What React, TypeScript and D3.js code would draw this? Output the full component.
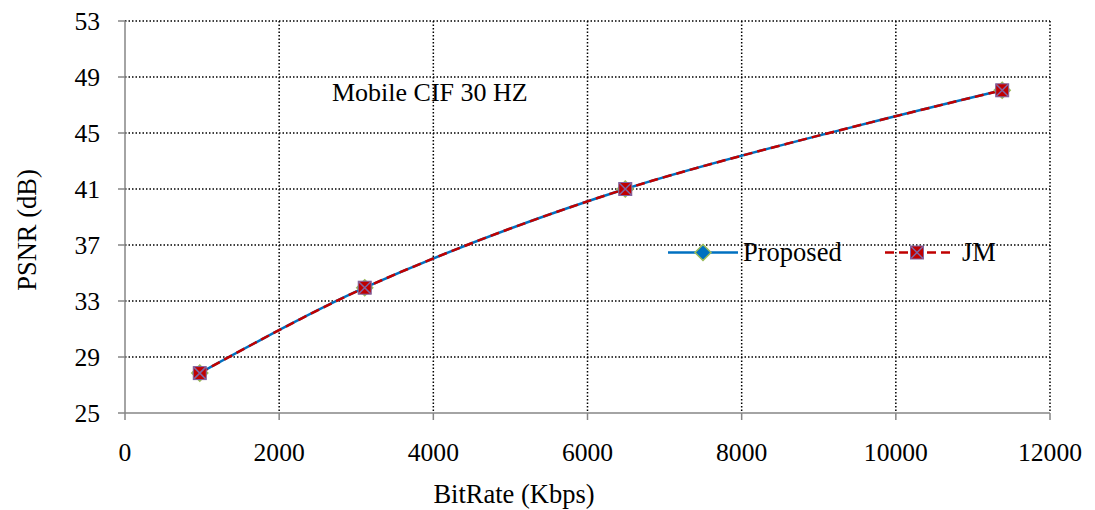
import React from "react";
import * as d3 from "d3";

const bitrate = [970, 3110, 6490, 11380];
const proposed = [27.85, 33.95, 41.0, 48.05];
const jm = [27.85, 33.95, 41.0, 48.05];
const xTicks = [0, 2000, 4000, 6000, 8000, 10000, 12000];
const yTicks = [25, 29, 33, 37, 41, 45, 49, 53];

const W = 1095, H = 510;
const L = 125, R = 1050, T = 21, B = 413;
const font = "Liberation Serif, DejaVu Serif, serif";

export default function App() {
  const x = d3.scaleLinear().domain([0, 12000]).range([L, R]);
  const y = d3.scaleLinear().domain([25, 53]).range([B, T]);
  const line = d3.line<number>().x((_, i) => x(bitrate[i])).y((d) => y(d)).curve(d3.curveCatmullRom.alpha(0.5));
  const blue = "#0070C0", red = "#C00000", green = "#9BBB59", purple = "#8064A2";
  const diamond = (cx: number, cy: number, k: string) => (
    <path key={k} d={`M${cx},${cy - 8}L${cx + 8},${cy}L${cx},${cy + 8}L${cx - 8},${cy}Z`} fill={blue} stroke={green} strokeWidth={1.5} />
  );
  const square = (cx: number, cy: number, k: string) => (
    <g key={k}>
      <rect x={cx - 6.5} y={cy - 6.5} width={13} height={13} fill={red} stroke={purple} strokeWidth={1} />
      <path d={`M${cx - 6},${cy - 6}L${cx + 6},${cy + 6}M${cx + 6},${cy - 6}L${cx - 6},${cy + 6}`} stroke={purple} strokeWidth={1.5} />
    </g>
  );
  return (
    <div style={{ position: "absolute", left: 0, top: 0 }}>
      <svg width={W} height={H} style={{ display: "block", background: "#fff", fontFamily: font }}>
        {yTicks.filter((t) => t !== 25).map((t) => (
          <line key={"gy" + t} x1={L} x2={R} y1={y(t)} y2={y(t)} stroke="#000" strokeWidth={1.5} strokeDasharray="1.5,2" />
        ))}
        {xTicks.filter((t) => t !== 0).map((t) => (
          <line key={"gx" + t} x1={x(t)} x2={x(t)} y1={T} y2={B} stroke="#000" strokeWidth={1.5} strokeDasharray="1.5,2" />
        ))}
        <line x1={L} x2={L} y1={T} y2={B} stroke="#868686" strokeWidth={1.5} />
        <line x1={L} x2={R} y1={B} y2={B} stroke="#868686" strokeWidth={1.5} />
        {yTicks.map((t) => (
          <g key={"ty" + t}>
            <line x1={L - 7} x2={L} y1={y(t)} y2={y(t)} stroke="#868686" strokeWidth={1.5} />
            <text x={L - 25} y={y(t)} dy="0.35em" textAnchor="end" fontSize={25.6}>{t}</text>
          </g>
        ))}
        {xTicks.map((t) => (
          <g key={"tx" + t}>
            <line x1={x(t)} x2={x(t)} y1={B} y2={B + 7} stroke="#868686" strokeWidth={1.5} />
            <text x={x(t)} y={452.5} dy="0.35em" textAnchor="middle" fontSize={25.6}>{t}</text>
          </g>
        ))}
        <text x={0} y={0} transform={`translate(36,230) rotate(-90)`} textAnchor="middle" fontSize={26.5}>PSNR (dB)</text>
        <text x={514} y={503} textAnchor="middle" fontSize={26.5}>BitRate (Kbps)</text>
        <text x={332} y={101} fontSize={26}>Mobile CIF 30 HZ</text>
        <path d={line(proposed) || ""} fill="none" stroke={blue} strokeWidth={2.5} />
        <path d={line(jm) || ""} fill="none" stroke={red} strokeWidth={2.5} strokeDasharray="9,5" />
        {proposed.map((v, i) => diamond(x(bitrate[i]), y(v), "d" + i))}
        {jm.map((v, i) => square(x(bitrate[i]), y(v), "s" + i))}
        <line x1={668} x2={738} y1={252.5} y2={252.5} stroke={blue} strokeWidth={2.5} />
        {diamond(703, 252.5, "ld")}
        <text x={743} y={261} fontSize={26.5}>Proposed</text>
        <line x1={885} x2={950} y1={252.5} y2={252.5} stroke={red} strokeWidth={2.5} strokeDasharray="9,5" />
        {square(917, 252.5, "ls")}
        <text x={962} y={261} fontSize={26.5}>JM</text>
      </svg>
    </div>
  );
}
